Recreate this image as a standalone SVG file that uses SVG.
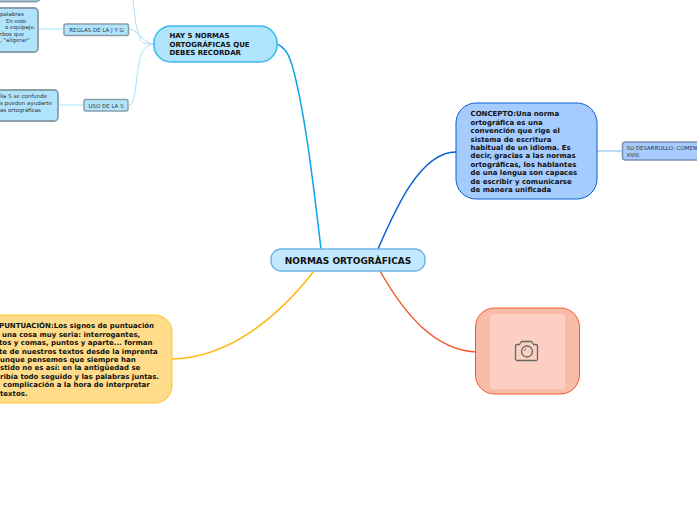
<svg xmlns="http://www.w3.org/2000/svg" width="697" height="520" viewBox="0 0 697 520">
<style>
text{font-family:"DejaVu Sans","Verdana",sans-serif;fill:#111}
.b{font-weight:700;font-size:7px}
.s{font-size:5.500px;fill:#333}
.c{fill:none;stroke-width:1.5}
.t{fill:none;stroke:#a6e0fb;stroke-width:1}
.leaf{fill:#b0e4fd;stroke:#8a9ea9;stroke-width:1.800}
</style>
<rect width="697" height="520" fill="#fff"/>
<g id="connectors">
<path class="c" stroke="#0aa5ea" d="M321 249C314 190 305 110 292 65C288 52 284 47 277 44"/>
<path class="c" stroke="#0b5fd0" d="M378 249C395 210 420 152 456 152"/>
<path class="c" stroke="#ffb60d" d="M314 271C280 315 230 358 172 359"/>
<path class="c" stroke="#f4592a" d="M380 271C405 315 435 350 476 352"/>
<path fill="none" stroke="#7fb2f0" stroke-width="1" d="M597 151H622"/>
<path class="t" d="M155 44C140 44 142 44 136 25C134 12 134 6 133 0"/>
<path class="t" d="M155 44C142 44 140 30 129 29"/>
<path class="t" d="M155 44C140 44 139 60 136 85C134 98 133 105 129 105"/>
<path class="t" d="M39 29H64"/>
<path class="t" d="M59 105H84"/>
</g>
<g id="n-root"><rect x="271" y="249" width="154" height="22" rx="10" fill="#c3e9fe" stroke="#72b5e5" stroke-width="1.500"/><text x="348" y="264" text-anchor="middle" class="b" style="font-size:9px">NORMAS ORTOGRÀFICAS</text></g>
<g id="n-hay"><rect x="154" y="26" width="123" height="36" rx="17" fill="#b0e4fd" stroke="#3db7ee" stroke-width="1.500"/><text class="b"><tspan x="169.500" y="38">HAY 5 NORMAS</tspan><tspan x="169.500" y="46.500">ORTOGRÁFICAS QUE</tspan><tspan x="169.500" y="55">DEBES RECORDAR</tspan></text></g>
<g id="n-concepto"><rect x="456" y="103" width="141" height="96" rx="20" fill="#a6cbfe" stroke="#0b5fd0" stroke-width="1"/><text class="b"><tspan x="470.500" y="116">CONCEPTO:Una norma</tspan><tspan x="470.500" y="124.500">ortográfica es una</tspan><tspan x="470.500" y="133">convención que rige el</tspan><tspan x="470.500" y="141.500">sistema de escritura</tspan><tspan x="470.500" y="150">habitual de un idioma. Es</tspan><tspan x="470.500" y="158">decir, gracias a las normas</tspan><tspan x="470.500" y="166.500">ortográficas, los hablantes</tspan><tspan x="470.500" y="175">de una lengua son capaces</tspan><tspan x="470.500" y="183.500">de escribir y comunicarse</tspan><tspan x="470.500" y="192">de manera unificada</tspan></text></g>
<g id="n-desarrollo"><rect x="622.500" y="142" width="90" height="18" rx="3" fill="#a6cbfe" stroke="#7c90b0" stroke-width="1.500"/><text class="s"><tspan x="626.500" y="150">SU DESARROLLO: COMENZÓ EN EL SIGLO</tspan><tspan x="626.500" y="157">XVIII.</tspan></text></g>
<g id="n-puntuacion"><rect x="-40" y="315" width="212" height="88" rx="17" fill="#ffdc8a" stroke="#ffc22e" stroke-width="1"/><text class="b"><tspan x="-1" y="328">PUNTUACIÓN:Los signos de puntuación</tspan><tspan x="2" y="336.500">una cosa muy seria: interrogantes,</tspan><tspan x="-1" y="345">tos y comas, puntos y aparte... forman</tspan><tspan x="-1" y="353.500">te de nuestros textos desde la imprenta</tspan><tspan x="0" y="362">unque pensemos que siempre han</tspan><tspan x="0" y="370">stido no es así: en la antigüedad se</tspan><tspan x="0" y="378.500">ribía todo seguido y las palabras juntas.</tspan><tspan x="3" y="387">complicación a la hora de interpretar</tspan><tspan x="0" y="396">textos.</tspan></text></g>
<g id="n-foto"><rect x="475.500" y="308" width="104" height="86" rx="19" fill="#f9bbaa" stroke="#f4592a" stroke-width="1"/><rect x="490" y="314" width="75" height="75" rx="3" fill="#fbd0c2"/><g fill="none" stroke="#666" stroke-width="1.300" stroke-linejoin="round"><path d="M517 344.500h2.500l2-3h10l2 3h2.500a1.500 1.500 0 0 1 1.500 1.500v13a1.500 1.500 0 0 1-1.500 1.500h-19a1.500 1.500 0 0 1-1.500-1.500v-13a1.500 1.500 0 0 1 1.500-1.500z"/><circle cx="527" cy="351.500" r="5.500"/><path d="M524 351a3 3 0 0 1 2-2" stroke-width=".8"/></g></g>
<g id="n-jg"><rect x="64" y="24" width="64.500" height="11.500" rx="2" fill="#b0e4fd" stroke="#8a9ea9" stroke-width="1.500"/><text class="s" x="96.500" y="32" text-anchor="middle">REGLAS DE LA J Y G</text></g>
<g id="n-s"><rect x="84" y="99.500" width="44" height="11.500" rx="2" fill="#b0e4fd" stroke="#8a9ea9" stroke-width="1.500"/><text class="s" x="106" y="108" text-anchor="middle">USO DE LA S</text></g>
<g id="n-top"><rect x="-20" y="-20" width="60" height="21.500" rx="4" class="leaf"/></g>
<g id="n-jgtext"><rect x="-20" y="8" width="58" height="44" rx="4" class="leaf"/><text class="s"><tspan x="0" y="16">palabras</tspan><tspan x="6" y="22.500">En este</tspan><tspan x="5" y="29">o equipaje.</tspan><tspan x="0" y="36">rbos que</tspan><tspan x="0" y="41.500">, "aligerar"</tspan></text></g>
<g id="n-stext"><rect x="-20" y="90" width="78" height="31" rx="4" class="leaf"/><text class="s"><tspan x="0" y="98">lla S se confunde</tspan><tspan x="0" y="105">s pueden ayudarte</tspan><tspan x="0" y="111.500">as ortográficas</tspan></text></g>
</svg>
